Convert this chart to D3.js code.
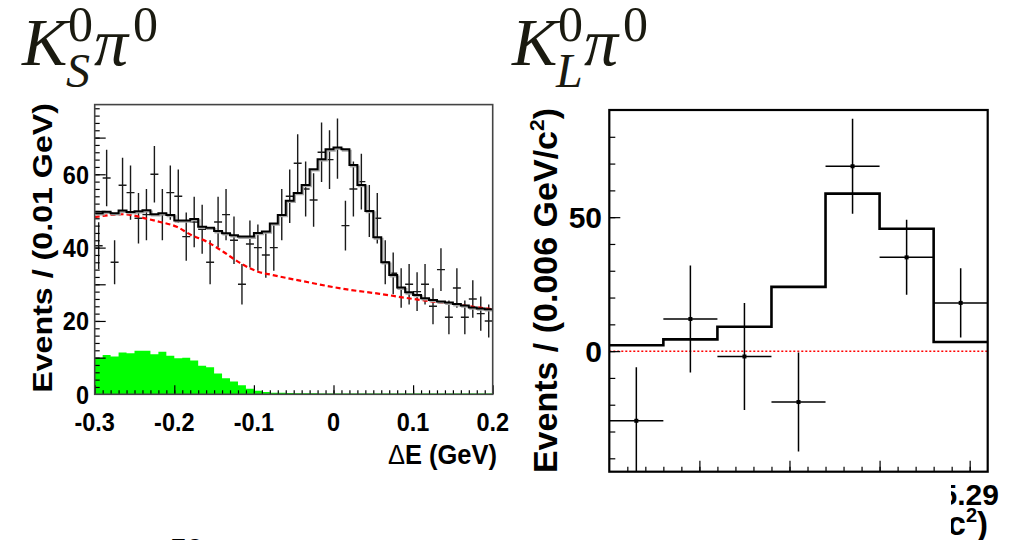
<!DOCTYPE html>
<html lang="en">
<head>
<meta charset="UTF-8">
<title>K0 pi0 Delta E and mES fits</title>
<script src="https://d3js.org/d3.v7.min.js"></script>
<style>
  body { margin: 0; background: #fff; }
  .lbl { font-family: "Liberation Sans", Arial, sans-serif; font-weight: bold; fill: #000; }
  .ttl { font-family: "Liberation Serif", "Times New Roman", serif; fill: #1a1a10; }
</style>
</head>
<body>
<svg width="1024" height="540"></svg>
<script>
// ---- K_S pi0 panel: Delta E in 0.01 GeV bins from -0.3 to 0.2 ----
const ksRange = [-0.3, 0.2];
const ksCounts = [40.5, 59, 36, 57, 55, 48, 49, 60, 49, 55,
                  54, 43, 47, 45, 36, 47, 49, 42, 30, 41,
                  40, 38, 40, 49, 54, 63, 56, 53, 66, 64,
                  67, 46, 56, 58, 50, 48, 36, 33, 29, 30,
                  28, 30, 24, 34, 21, 29, 21, 26, 22, 20];
const ksErrors = [6.4, 7.7, 6.0, 7.5, 7.4, 6.9, 7.0, 7.7, 7.0, 7.4,
                  7.3, 6.6, 6.9, 6.7, 6.0, 6.9, 7.0, 6.5, 5.5, 6.4,
                  6.3, 6.2, 6.3, 7.0, 7.3, 7.9, 7.5, 7.3, 8.1, 8.0,
                  8.2, 6.8, 7.5, 7.6, 7.1, 6.9, 6.0, 5.7, 5.4, 5.5,
                  5.3, 5.5, 4.9, 5.8, 4.6, 5.4, 4.6, 5.1, 4.7, 4.5];
const ksFit = [49.4, 49.8, 49.4, 50.1, 49.7, 49.9, 50.2, 49.1, 49.4, 48.9,
               47.4, 47.4, 47.8, 45.7, 45.4, 44.5, 43.9, 43.4, 43.0, 43.0,
               44.0, 44.4, 46.6, 48.9, 52.8, 54.9, 57.1, 61.4, 64.1, 66.8,
               67.3, 66.8, 62.5, 57.1, 50.0, 42.8, 36.0, 32.5, 29.1, 27.8,
               27.1, 26.2, 25.7, 25.3, 25.0, 24.6, 24.2, 23.7, 23.4, 23.2];
const ksPeaking = [10, 10.7, 10.3, 11.4, 11.2, 11.9, 11.9, 10.9, 11.6, 10.5,
                   9.8, 10, 9.2, 7.8, 7.4, 5.7, 4.4, 3.5, 2.5, 1.5,
                   1.0, 0.6, 0.45, 0.4, 0.35, 0.3, 0.3, 0.3, 0.25, 0.25,
                   0.2, 0.2, 0.2, 0.2, 0.2, 0.2, 0.2, 0.2, 0.2, 0.2,
                   0.2, 0.2, 0.2, 0.2, 0.2, 0.2, 0.2, 0.2, 0.2, 0.2];
const ksBkgX = [-0.300, -0.264, -0.233, -0.218, -0.197, -0.180, -0.159, -0.138, -0.118,
                -0.097, -0.076, -0.042, 0.017, 0.058, 0.100, 0.142, 0.200];
const ksBkgY = [48.3, 49.1, 47.8, 47.0, 45.7, 43.6, 41.6, 38.8, 35.9,
                33.6, 32.5, 31.0, 28.6, 27.4, 26.0, 24.8, 23.2];
const ksYLabels = [0, 20, 40, 60];
const ksXLabels = [-0.3, -0.2, -0.1, 0, 0.1, 0.2];

// ---- K_L pi0 panel: mES in 0.006 GeV/c^2 bins ----
const klBinLow = [5.250, 5.256, 5.262, 5.268, 5.274, 5.280, 5.286];
const klBinWidth = 0.006;
const klCounts = [-26, 12, -2, -19, 69, 35, 18];
const klErrors = [20, 20, 20, 18.5, 17.7, 14, 12.9];
const klFit = [2.2, 4.4, 9.1, 24, 58.8, 45.7, 3.4];
const klYLabels = [0, 50];
const klXLabels = [5.29];

const svg = d3.select("svg");
svg.append("rect").attr("width", 1024).attr("height", 540).attr("fill", "#fff");

// text helper with optional vertical stretch / rotation
function txt(g, x, y, s, size, anchor, sy, rot) {
  const t = g.append("text").attr("class", "lbl")
    .attr("font-size", size)
    .attr("text-anchor", anchor || "start")
    .attr("transform", `translate(${x},${y}) scale(1,${sy || 1})` + (rot ? ` rotate(${rot})` : ""));
  if (s !== null) t.text(s);
  return t;
}

// ================= left panel =================
const xL = d3.scaleLinear().domain(ksRange).range([94.7, 492.7]);
const yL = d3.scaleLinear().domain([0, 79]).range([394.3, 104.6]);
const bw = 0.01;
const ksLow = ksCounts.map((d, i) => ksRange[0] + i * bw);

const gL = svg.append("g");
gL.append("defs").append("clipPath").attr("id", "clipL")
  .append("rect").attr("x", xL(-0.3)).attr("y", yL(79)).attr("width", xL(0.2) - xL(-0.3)).attr("height", yL(0) - yL(79));

const plotL = gL.append("g").attr("clip-path", "url(#clipL)");

// peaking background (green)
const stepPts = arr => arr.map((v, i) => [ksLow[i], v]).concat([[ksRange[1], arr[arr.length - 1]]]);
plotL.append("path")
  .datum(stepPts(ksPeaking))
  .attr("fill", "#00ff00")
  .attr("d", d3.area().curve(d3.curveStepAfter).x(d => xL(d[0])).y0(yL(0)).y1(d => yL(d[1])));

// data error bars
const eb = plotL.append("g").attr("stroke", "#1a1a1a").attr("stroke-width", 1.4);
ksCounts.forEach((v, i) => {
  const xc = xL(ksLow[i] + bw / 2);
  eb.append("line").attr("x1", xc).attr("x2", xc).attr("y1", yL(v - ksErrors[i])).attr("y2", yL(v + ksErrors[i]));
  eb.append("line").attr("x1", xL(ksLow[i])).attr("x2", xL(ksLow[i] + bw)).attr("y1", yL(v)).attr("y2", yL(v));
});

// continuum background (red dashed)
plotL.append("path")
  .datum(ksBkgX.map((x, i) => [x, ksBkgY[i]]))
  .attr("fill", "none").attr("stroke", "#ff0000").attr("stroke-width", 2.2)
  .attr("stroke-dasharray", "5 3")
  .attr("d", d3.line().curve(d3.curveMonotoneX).x(d => xL(d[0])).y(d => yL(d[1])));

// total fit (black step with grey shadow)
const fitLine = d3.line().curve(d3.curveStepAfter).x(d => xL(d[0])).y(d => yL(d[1]));
plotL.append("path").datum(stepPts(ksFit))
  .attr("fill", "none").attr("stroke", "#aaa").attr("stroke-width", 2)
  .attr("transform", "translate(1.3,1.3)").attr("d", fitLine);
plotL.append("path").datum(stepPts(ksFit))
  .attr("fill", "none").attr("stroke", "#000").attr("stroke-width", 2).attr("d", fitLine);

// ticks
function ticks(g, axis, tx, ty) {
  const a = g.append("g").attr("transform", `translate(${tx},${ty})`).call(axis);
  a.select(".domain").remove();
  a.selectAll(".tick line").attr("stroke", "#000").attr("stroke-width", 1.2);
}
ticks(gL, d3.axisLeft(yL).tickValues(d3.range(2, 79, 2)).tickSize(-5).tickFormat(""), xL(-0.3), 0);
ticks(gL, d3.axisLeft(yL).tickValues(d3.range(10, 79, 10)).tickSize(-11).tickFormat(""), xL(-0.3), 0);
ticks(gL, d3.axisBottom(xL).tickValues(d3.range(-0.29, 0.2, 0.01)).tickSize(-4).tickFormat(""), 0, yL(0));
ticks(gL, d3.axisBottom(xL).tickValues(ksXLabels).tickSize(-9).tickFormat(""), 0, yL(0));

// frame
gL.append("rect").attr("x", xL(-0.3)).attr("y", yL(79)).attr("width", xL(0.2) - xL(-0.3)).attr("height", yL(0) - yL(79))
  .attr("fill", "none").attr("stroke", "#444").attr("stroke-width", 1.6);

// labels
ksYLabels.forEach(v => txt(gL, 89, yL(v) + 9.5, String(v), 23.5, "end", 1.12));
ksXLabels.forEach(v => txt(gL, xL(v), 431, String(v), 23.5, "middle", 1.12));
const dE = txt(gL, 497, 464, null, 25.5, "end", 1.12);
dE.append("tspan").attr("font-weight", "normal").text("\u0394");
dE.append("tspan").text("E (GeV)");
txt(gL, 52, 103, "Events / (0.01 GeV)", 28.5, "end", 1.13, -90);

// ================= right panel =================
const xR = d3.scaleLinear().domain([5.25, 5.292]).range([609.3, 987.7]);
const yR = d3.scaleLinear().domain([-45, 90]).range([471.7, 110]);
const gR = svg.append("g");
gR.append("defs").append("clipPath").attr("id", "clipR")
  .append("rect").attr("x", xR(5.25)).attr("y", yR(90)).attr("width", xR(5.292) - xR(5.25)).attr("height", yR(-45) - yR(90));
const plotR = gR.append("g").attr("clip-path", "url(#clipR)");

// zero background line (red dotted)
plotR.append("line").attr("x1", xR(5.25)).attr("x2", xR(5.292)).attr("y1", yR(0)).attr("y2", yR(0))
  .attr("stroke", "#ff0000").attr("stroke-width", 1.5).attr("stroke-dasharray", "2 2");

// fit histogram
const klPts = klBinLow.map((x, i) => [x, klFit[i]]).concat([[5.292, klFit[klFit.length - 1]]]);
plotR.append("path").datum(klPts)
  .attr("fill", "none").attr("stroke", "#000").attr("stroke-width", 2.6)
  .attr("d", d3.line().curve(d3.curveStepAfter).x(d => xR(d[0])).y(d => yR(d[1])));

// data
const ebR = plotR.append("g").attr("stroke", "#000").attr("stroke-width", 1.5);
klCounts.forEach((v, i) => {
  const xc = xR(klBinLow[i] + klBinWidth / 2);
  ebR.append("line").attr("x1", xc).attr("x2", xc).attr("y1", yR(v - klErrors[i])).attr("y2", yR(v + klErrors[i]));
  ebR.append("line").attr("x1", xR(klBinLow[i])).attr("x2", xR(klBinLow[i] + klBinWidth)).attr("y1", yR(v)).attr("y2", yR(v));
  plotR.append("rect").attr("x", xc - 2).attr("y", yR(v) - 2).attr("width", 4).attr("height", 4).attr("fill", "#000");
});

ticks(gR, d3.axisLeft(yR).tickValues(d3.range(-40, 90, 10)).tickSize(-6).tickFormat(""), xR(5.25), 0);
ticks(gR, d3.axisLeft(yR).tickValues(klYLabels).tickSize(-11).tickFormat(""), xR(5.25), 0);
ticks(gR, d3.axisBottom(xR).tickValues(d3.range(5.252, 5.2915, 0.002)).tickSize(-5).tickFormat(""), 0, yR(-45));
ticks(gR, d3.axisBottom(xR).tickValues([5.26, 5.27, 5.28, 5.29]).tickSize(-11).tickFormat(""), 0, yR(-45));

gR.append("rect").attr("x", xR(5.25)).attr("y", yR(90)).attr("width", xR(5.292) - xR(5.25)).attr("height", yR(-45) - yR(90))
  .attr("fill", "none").attr("stroke", "#000").attr("stroke-width", 2.2);

klYLabels.forEach(v => txt(gR, 602, yR(v) + 11, String(v), 30, "end", 1));
const yt = txt(gR, 557, 108, null, 34, "end", 1, -90);
yt.append("tspan").text("Events / (0.006 GeV/c");
yt.append("tspan").attr("font-size", 21).attr("dy", -13).text("2");
yt.append("tspan").attr("dy", 13).text(")");

// bottom texts, partly hidden by the neighbouring panel
gR.append("defs").append("clipPath").attr("id", "clipB")
  .append("rect").attr("x", 951).attr("y", 474).attr("width", 80).attr("height", 70);
const gB = gR.append("g").attr("clip-path", "url(#clipB)");
klXLabels.forEach(v => txt(gB, xR(v), 505, v.toFixed(2), 30, "middle", 1));
const xt = txt(gB, 988, 535, null, 33, "end", 1);
xt.append("tspan").text("m");
xt.append("tspan").attr("font-size", 20).attr("dy", 6).text("ES");
xt.append("tspan").attr("dy", -6).text(" (GeV/c");
xt.append("tspan").attr("font-size", 20).attr("dy", -13).text("2");
xt.append("tspan").attr("dy", 13).text(")");

// fragment of text cut by the bottom edge
txt(svg, 170, 559, "50", 30, "start", 1);

// ================= titles =================
function title(x, sub) {
  const g = svg.append("g").attr("class", "ttl");
  g.append("text").attr("x", x).attr("y", 65).attr("font-size", 68).attr("font-style", "italic").text("K");
  g.append("text").attr("x", x + 46).attr("y", 41).attr("font-size", 50).text("0");
  g.append("text").attr("x", x + 44).attr("y", 87).attr("font-size", 48).attr("font-style", "italic").text(sub);
  g.append("text").attr("x", x + 72).attr("y", 65).attr("font-size", 68).attr("font-style", "italic").text("\u03c0");
  g.append("text").attr("x", x + 111).attr("y", 41).attr("font-size", 50).text("0");
}
title(22, "S");
title(512, "L");
</script>
</body>
</html>
